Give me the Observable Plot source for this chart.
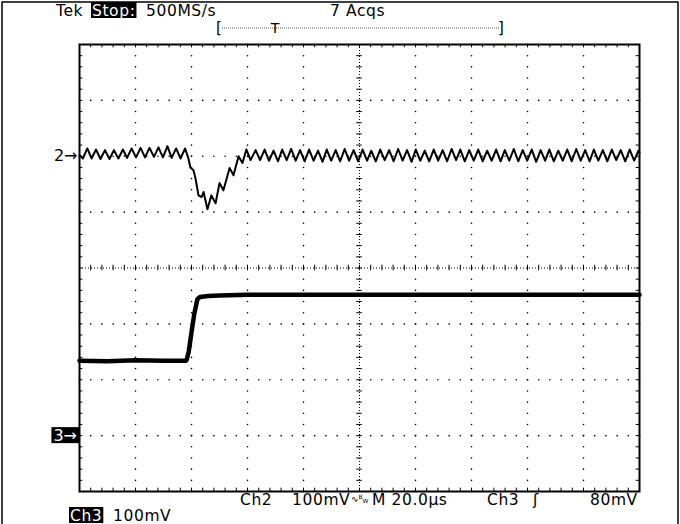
<!DOCTYPE html>
<html><head><meta charset="utf-8">
<script src="https://cdn.jsdelivr.net/npm/d3@7"></script>
<script src="https://cdn.jsdelivr.net/npm/@observablehq/plot@0.6"></script>
<style>
html,body{margin:0;padding:0;background:#fff;overflow:hidden;}
#chart svg{display:block;}
</style></head><body><div id="chart"></div><script>
// ---- scope settings ----
const timePerDiv = 20;      // µs / div
const voltsPerDiv = 100;    // mV / div (Ch2 and Ch3)
const divisionsX = 10;
const divisionsY = 8;
const ch2Position = 2;      // ground marker, divisions
const ch3Position = -3;

// ---- Ch2 trace: [time µs, mV relative to Ch2 ground] ----
const ch2Trace = [
  [0.0,2],[1.2,-4],[2.8,14],[4.3,-4],[5.9,12],[7.5,-5],[9.1,11],[10.7,-5],[12.3,11],[13.9,-4],
  [15.5,12],[17.0,-3],[18.6,14],[20.2,-2],[21.8,15],[23.4,-2],[25.0,15],[26.6,-1],[28.2,16],[29.8,-2],
  [31.4,18],[32.9,-3],[34.5,14],[36.1,-4],[37.7,14],
  [38.9,-4],[39.6,-20],[40.7,-25],[41.4,-39],[42.5,-70],[43.6,-73],[44.3,-64],[45.7,-95],[47.1,-70],
  [48.6,-84],[50.0,-48],[51.4,-61],[53.6,-21],[55.0,-34],[56.8,0],[58.2,-12],[59.6,12],[61.1,-7],
  [62.9,11],[64.5,-7],[66.1,12],[67.7,-8],[69.3,10],[70.9,-9],[72.4,12],[74.0,-7],[75.6,13],[77.2,-8],
  [78.8,11],[80.4,-9],[82.0,12],[83.6,-8],[85.2,10],[86.8,-10],[88.3,12],[89.9,-8],[91.5,11],[93.1,-9],
  [94.7,13],[96.3,-8],[97.9,11],[99.5,-9],[101.1,12],[102.7,-8],[104.2,10],[105.8,-9],[107.4,12],[109.0,-7],
  [110.6,11],[112.2,-9],[113.8,13],[115.4,-8],[117.0,11],[118.6,-10],[120.1,12],[121.7,-8],[123.3,10],[124.9,-9],
  [126.5,12],[128.1,-8],[129.7,11],[131.3,-9],[132.9,13],[134.5,-7],[136.0,12],[137.6,-9],[139.2,11],[140.8,-8],
  [142.4,12],[144.0,-9],[145.6,10],[147.2,-8],[148.8,12],[150.4,-9],[151.9,11],[153.5,-8],[155.1,13],[156.7,-9],
  [158.3,11],[159.9,-8],[161.5,12],[163.1,-10],[164.7,11],[166.3,-8],[167.8,12],[169.4,-9],[171.0,10],[172.6,-8],
  [174.2,12],[175.8,-9],[177.4,13],[179.0,-8],[180.6,11],[182.2,-9],[183.7,12],[185.3,-8],[186.9,11],[188.5,-9],
  [190.1,12],[191.7,-7],[193.3,11],[194.9,-9],[196.5,12],[198.1,-8],[199.6,10],[200.0,6]
];

// ---- Ch3 trace: [time µs, mV relative to Ch3 ground] ----
const ch3Trace = [
  [0,134],[10,133],[20,135],[30,134],[38.2,134],[39.0,150],[40.0,185],[41.0,218],[42.1,244],
  [43.0,248],[46.0,250],[50,251],[60,252],[100,252],[150,252],[200,252]
];

// ---- screen texts ----
const headerTexts = [
  {t:"Tek", x:56, y:16}, {t:"Stop:", x:92, y:16, inv:true}, {t:"500MS/s", x:146, y:16}, {t:"7 Acqs", x:330, y:16}
];
const footerTexts = [
  {t:"Ch2", x:240, y:505}, {t:"100mV", x:292, y:505}, {t:"M 20.0µs", x:372, y:505},
  {t:"Ch3", x:487, y:505}, {t:"ʃ", x:533, y:505}, {t:"80mV", x:590, y:505},
  {t:"Ch3", x:70, y:521, inv:true}, {t:"100mV", x:113, y:521}
];

// ---- graticule helpers ----
const xMax = timePerDiv * divisionsX;
const yHalf = divisionsY / 2;
const majorX = d3.range(1, divisionsX).map(i => i * timePerDiv).filter(v => v !== xMax / 2);
const majorY = d3.range(-yHalf + 1, yHalf).filter(v => v !== 0);
const minorX = d3.range(0, divisionsX * 5 + 1).map(i => i * timePerDiv / 5);
const minorY = d3.range(-yHalf * 5, yHalf * 5 + 1).map(i => i / 5);
const gridDots = [];
for (const x of majorX) for (const y of minorY) gridDots.push({x, y});
for (const y of majorY) for (const x of minorX) gridDots.push({x, y});

const chart = Plot.plot({
  width: 680, height: 524,
  marginLeft: 79, marginRight: 41, marginTop: 44, marginBottom: 33,
  style: {background: "#fff", fontFamily: "DejaVu Sans, sans-serif"},
  x: {domain: [0, xMax], axis: null},
  y: {domain: [-yHalf, yHalf], axis: null},
  marks: [
    Plot.dot(gridDots, {x: "x", y: "y", r: 0.8, fill: "#000", stroke: null}),
    Plot.ruleY([0], {stroke: "#000", strokeWidth: 1, strokeDasharray: "1,2"}),
    Plot.ruleX([xMax / 2], {stroke: "#000", strokeWidth: 1, strokeDasharray: "1,2"}),
    Plot.ruleX(minorX, {y1: -0.05, y2: 0.05, stroke: "#000", strokeWidth: 1}),
    Plot.ruleY(minorY, {x1: xMax / 2 - 1, x2: xMax / 2 + 1, stroke: "#000", strokeWidth: 1}),
    Plot.ruleX(minorX, {y1: yHalf, y2: yHalf - 0.06, stroke: "#000", strokeWidth: 1}),
    Plot.ruleX(minorX, {y1: -yHalf, y2: -yHalf + 0.06, stroke: "#000", strokeWidth: 1}),
    Plot.ruleY(minorY, {x1: 0, x2: 1.2, stroke: "#000", strokeWidth: 1}),
    Plot.ruleY(minorY, {x1: xMax - 1.2, x2: xMax, stroke: "#000", strokeWidth: 1}),
    Plot.line(ch3Trace, {x: d => d[0], y: d => ch3Position + d[1] / voltsPerDiv, stroke: "#000", strokeWidth: 4.5, strokeLinejoin: "miter"}),
    Plot.line(ch2Trace, {x: d => d[0], y: d => ch2Position + d[1] / voltsPerDiv, stroke: "#000", strokeWidth: 2, strokeLinejoin: "round"}),
    Plot.frame({stroke: "#000", strokeWidth: 2}),
    Plot.text([ch2Position], {x: () => 0, y: d => d, text: () => "2→", textAnchor: "end", dx: -2, fontSize: 16, fill: "#000"})
  ]
});
document.getElementById("chart").append(chart);

const svg = d3.select(chart);
const sy = chart.scale("y");
const font = "DejaVu Sans, sans-serif";

function addText(d) {
  const g = svg.append("g");
  const t = g.append("text").attr("x", d.x).attr("y", d.y).attr("text-anchor", "start")
    .attr("font-family", font).attr("font-size", 15.5).attr("letter-spacing", 0.6)
    .attr("fill", d.inv ? "#fff" : "#000").text(d.t);
  if (d.inv) {
    const b = t.node().getBBox();
    g.insert("rect", "text").attr("x", b.x - 1).attr("y", d.y - 14).attr("width", b.width + 2).attr("height", 16).attr("fill", "#000");
  }
  return t;
}
headerTexts.forEach(addText);
footerTexts.forEach(addText);

// bandwidth-limit glyph after 100mV
const bw = svg.append("text").attr("x", 351).attr("y", 502).attr("text-anchor", "start").attr("font-family", font).attr("fill", "#000");
bw.append("tspan").attr("font-size", 9).text("∿");
bw.append("tspan").attr("font-size", 6).attr("dy", -3).text("B");
bw.append("tspan").attr("font-size", 6).attr("dy", 4).text("W");

// Ch3 ground marker (inverse)
{
  const y3 = sy.apply(ch3Position);
  const g = svg.append("g");
  const t = g.append("text").attr("x", 77).attr("y", y3 + 6).attr("text-anchor", "end")
    .attr("font-family", font).attr("font-size", 16).attr("fill", "#fff").text("3→");
  const b = t.node().getBBox();
  g.insert("rect", "text").attr("x", b.x - 2).attr("y", y3 - 8).attr("width", b.width + 4).attr("height", 16).attr("fill", "#000");
}

// record-view bracket with trigger marker
svg.append("line").attr("x1", 222).attr("x2", 500).attr("y1", 28).attr("y2", 28).attr("stroke", "#555").attr("stroke-width", 1).attr("stroke-dasharray", "1,1");
svg.append("text").attr("x", 216).attr("y", 33).attr("text-anchor", "start").attr("font-family", font).attr("font-size", 15).text("[");
svg.append("text").attr("x", 498).attr("y", 33).attr("text-anchor", "start").attr("font-family", font).attr("font-size", 15).text("]");
svg.append("text").attr("x", 275).attr("y", 33).attr("text-anchor", "middle").attr("font-family", font).attr("font-size", 14).text("T");

// outer screen border
svg.append("rect").attr("x", 2).attr("y", 2).attr("width", 676).attr("height", 540).attr("fill", "none").attr("stroke", "#000").attr("stroke-width", 1.5);
</script></body></html>
